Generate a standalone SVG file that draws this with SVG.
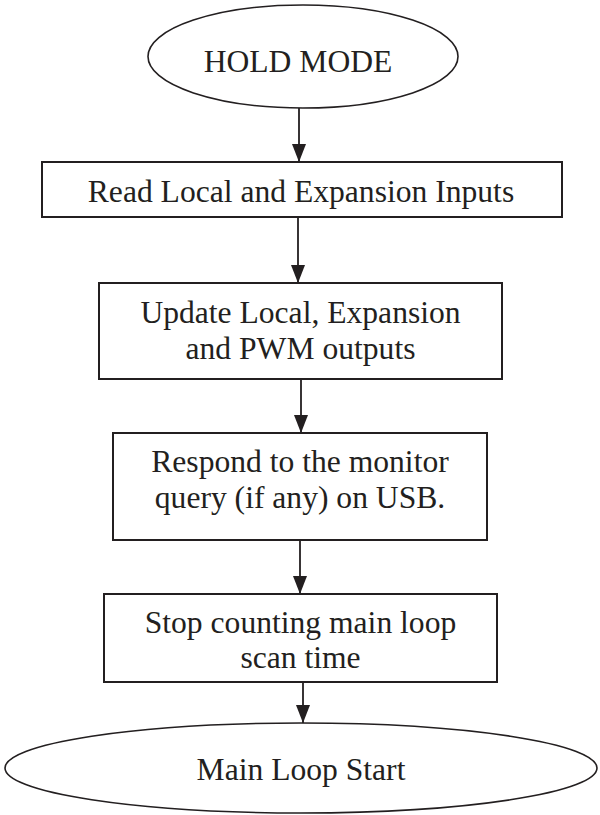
<svg xmlns="http://www.w3.org/2000/svg" width="600" height="815" viewBox="0 0 600 815">
  <style>
    .shape { fill: #ffffff; stroke: #231f20; stroke-width: 2; }
    .oval { fill: #ffffff; stroke: #231f20; stroke-width: 1.6; }
    .label { font-family: "Liberation Serif", "Times New Roman", serif; font-size: 31.6px; fill: #231f20; text-anchor: middle; }
    .link { stroke: #231f20; stroke-width: 1.8; fill: none; marker-end: url(#head); }
  </style>
  <defs>
    <marker id="head" markerUnits="userSpaceOnUse" markerWidth="18" markerHeight="14" refX="18" refY="7" orient="auto">
      <path d="M0,0 L18,7 L0,14 Z" fill="#231f20"/>
    </marker>
  </defs>
  <rect width="600" height="815" fill="#ffffff"/>

  <g id="connectors">
    <line class="link" x1="299" y1="108" x2="299" y2="162"/>
    <line class="link" x1="298" y1="217" x2="298" y2="283"/>
    <line class="link" x1="301" y1="379" x2="301" y2="433"/>
    <line class="link" x1="300" y1="540" x2="300" y2="594"/>
    <line class="link" x1="303" y1="682" x2="303" y2="723"/>
  </g>

  <g id="hold-mode">
    <ellipse class="oval" cx="303" cy="56.5" rx="155" ry="51.5"/>
    <text class="label" x="298" y="72">HOLD MODE</text>
  </g>

  <g id="read-inputs">
    <rect class="shape" x="42" y="162" width="520" height="55"/>
    <text class="label" x="301" y="202">Read Local and Expansion Inputs</text>
  </g>

  <g id="update-outputs">
    <rect class="shape" x="99" y="283" width="403" height="96"/>
    <text class="label" x="300.5" y="323">Update Local, Expansion</text>
    <text class="label" x="300.5" y="359">and PWM outputs</text>
  </g>

  <g id="respond-query">
    <rect class="shape" x="113" y="433" width="374" height="107"/>
    <text class="label" x="300" y="472">Respond to the monitor</text>
    <text class="label" x="300" y="508">query (if any) on USB.</text>
  </g>

  <g id="stop-counting">
    <rect class="shape" x="104" y="594" width="393" height="88"/>
    <text class="label" x="300.5" y="633">Stop counting main loop</text>
    <text class="label" x="300.5" y="668">scan time</text>
  </g>

  <g id="main-loop-start">
    <ellipse class="oval" cx="301" cy="768" rx="296" ry="45"/>
    <text class="label" x="301" y="780">Main Loop Start</text>
  </g>
</svg>
